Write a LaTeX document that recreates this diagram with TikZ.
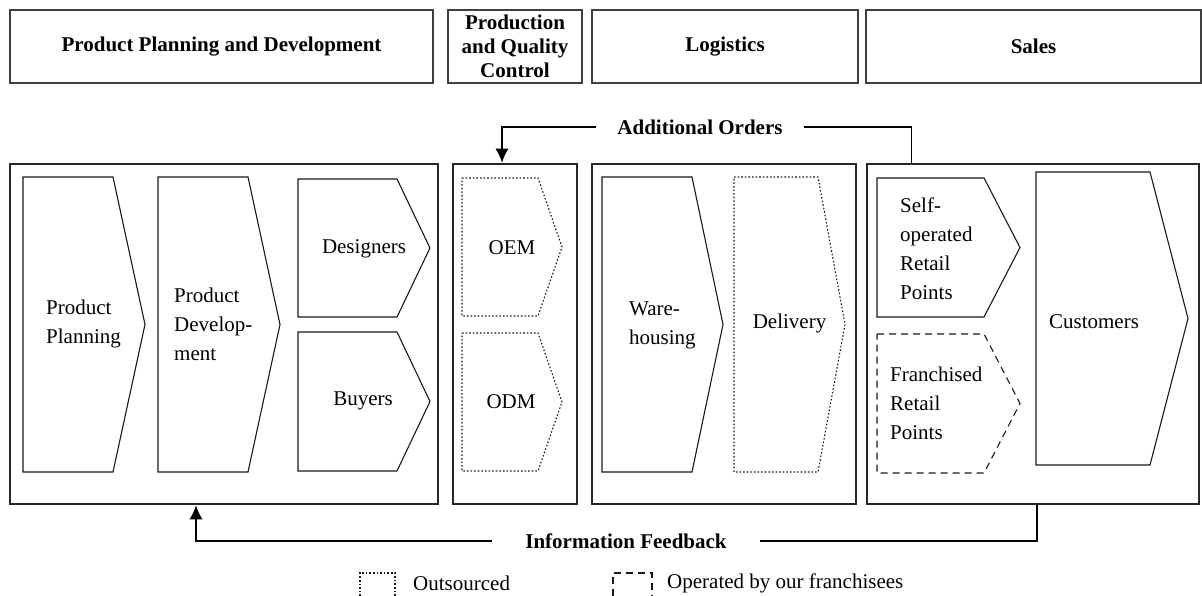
\documentclass[tikz,border=0pt]{standalone}
\usepackage{fontspec}
\setmainfont{Liberation Serif}
\usetikzlibrary{arrows.meta,calc}

\begin{document}
\begin{tikzpicture}[x=1pt,y=-1pt,>={Latex[length=14pt,width=13pt]},
  head/.style ={rectangle, draw=black!75, line width=1.4pt, inner sep=0pt, align=center, font=\fontsize{21}{24}\selectfont\bfseries},
  stage/.style ={rectangle, draw=black!85, line width=2.6pt, inner sep=0pt, minimum height=340pt},
  chev/.style ={draw=black!90, line width=1.1pt},
  outs/.style ={chev, dash pattern=on 1.6pt off 2pt},
  fran/.style ={chev, dash pattern=on 7pt off 5pt},
  txt/.style ={inner sep=0pt, align=left, font=\fontsize{21}{29}\selectfont},
  lab/.style ={fill=white, inner ysep=2pt, font=\fontsize{21}{24}\selectfont\bfseries},
  flow/.style ={line width=1.2pt}]%,draw=black!80
\useasboundingbox (0,0) rectangle (1202,596);
% departments
\draw (221.5,46.5) node[head, minimum width=423pt, minimum height=73pt] (devhead) {Product Planning and Development};
\draw (515,46.5) node[head, minimum width=134pt, minimum height=73pt] (prodhead) {Production\\and Quality\\Control};
\draw (725,46.5) node[head, minimum width=266pt, minimum height=73pt] (loghead) {Logistics};
\draw (1033.5,46.5) node[head, minimum width=335pt, minimum height=73pt] (saleshead) {Sales};
% stages
\draw (224,334) node[stage, minimum width=428pt] (devbox) {};
\draw (515,334) node[stage, minimum width=124pt] (prodbox) {};
\draw (724,334) node[stage, minimum width=264pt] (logbox) {};
\draw (1033,334) node[stage, minimum width=332pt] (salesbox) {};
% product planning and development
\draw[chev] (23,177) -- (113,177) -- (145,324.5) -- (113,472) -- (23,472) -- cycle;
\draw (46,324) node[txt, anchor=west] (plan) {Product\\Planning};
\draw[chev] (158,177) -- (248,177) -- (280,324.5) -- (248,472) -- (158,472) -- cycle;
\draw (174,324) node[txt, anchor=west] (devel) {Product\\Develop-\\ment};
\draw[chev] (298,179) -- (397,179) -- (430,248) -- (397,317) -- (298,317) -- cycle;
\draw (364,249) node[txt] (desig) {Designers};
\draw[chev] (298,332) -- (397,332) -- (430,401.5) -- (397,471) -- (298,471) -- cycle;
\draw (363,401) node[txt] (buyer) {Buyers};
% production
\draw[outs] (462,178) -- (538,178) -- (562,247) -- (538,316) -- (462,316) -- cycle;
\draw (512,248) node[txt] (oem) {OEM};
\draw[outs] (462,333) -- (538,333) -- (562,402) -- (538,471) -- (462,471) -- cycle;
\draw (511,402) node[txt] (odm) {ODM};
% logistics
\draw[chev] (602,177) -- (692,177) -- (723,324.5) -- (692,472) -- (602,472) -- cycle;
\draw (629,325) node[txt, anchor=west] (wareh) {Ware-\\housing};
\draw[outs] (734,177) -- (818,177) -- (845,324.5) -- (818,472) -- (734,472) -- cycle;
\draw (789.5,323) node[txt] (deliv) {Delivery};
% sales
\draw[chev] (877,178) -- (984,178) -- (1020,247.5) -- (984,317) -- (877,317) -- cycle;
\draw (900,249) node[txt, anchor=west] (selfop) {Self-\\operated\\Retail\\Points};
\draw[fran] (877,334) -- (984,334) -- (1020,403.5) -- (984,473) -- (877,473) -- cycle;
\draw (890,403) node[txt, anchor=west] (franch) {Franchised\\Retail\\Points};
\draw[chev] (1036,172) -- (1150,172) -- (1188,318.5) -- (1150,465) -- (1036,465) -- cycle;
\draw (1094,322) node[txt] (cust) {Customers};
% loops
\node[lab, inner xsep=21pt] (ordr) at (700,127) {Additional Orders};
\draw[flow] ([xshift=46pt]salesbox.north west) |- (ordr.east);
\draw[flow,->] (ordr.west) -| ([xshift=-13pt]prodbox.north);
\node[lab, inner xsep=33pt] (fdbk) at (626,541) {Information Feedback};
\draw[flow] ([xshift=4pt]salesbox.south) |- (fdbk.east);
\draw[flow,->] (fdbk.west) -| ([xshift=-28pt]devbox.south);
% legend
\draw[outs] (360,596) |- (395,573) -- (395,596);
\draw (413,583) node[txt, anchor=west] (outsrc) {Outsourced};
\draw[fran] (613,596) |- (652,573) -- (652,596);
\draw (667,583) node[txt, anchor=west] (frnch) {Operated by our franchisees};
\end{tikzpicture}
\end{document}
